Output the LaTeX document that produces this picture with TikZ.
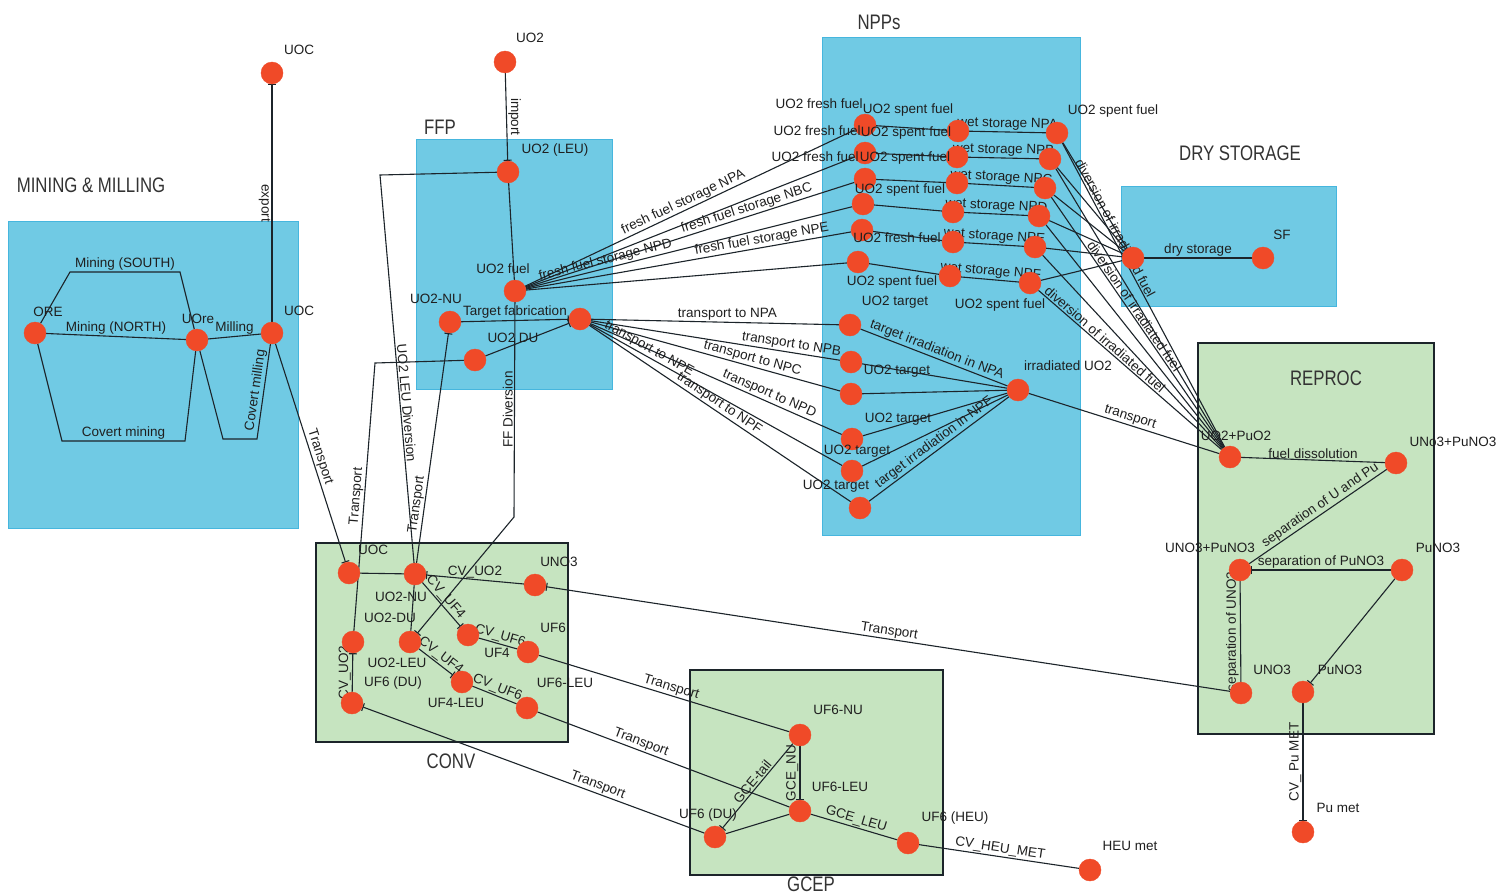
\documentclass[tikz,border=0pt]{standalone}
\usepackage{fontspec}
\setmainfont{Liberation Sans}
\usetikzlibrary{arrows.meta}
\pgfdeclarelayer{bg}\pgfdeclarelayer{edges}\pgfsetlayers{bg,edges,main}
\definecolor{boxblue}{RGB}{112,202,228}
\definecolor{boxblueline}{RGB}{70,182,222}
\definecolor{boxgreen}{RGB}{198,228,192}
\definecolor{nodered}{RGB}{240,74,40}
\definecolor{ln}{RGB}{28,36,42}
\begin{document}
\begin{tikzpicture}[x=1pt,y=-1pt,
  pt/.style={circle,fill=nodered,draw=nodered,minimum size=22pt,inner sep=0pt},
  lbl/.style={font=\fontsize{13.5}{14}\selectfont,inner sep=1.2pt,text=black!88},
  ttl/.style={font=\fontsize{21}{22}\selectfont,xscale=0.8,text=black!80,inner sep=0pt},
  ed/.style={draw=ln,line width=1.1pt},
  tk/.style={-{Bar[width=8pt,line width=1.1pt]}},
  bluebox/.style={fill=boxblue,draw=boxblueline,line width=0.8pt},
  greenbox/.style={fill=boxgreen,draw=ln,line width=1.3pt}]
\useasboundingbox (0,0) rectangle (1502,894);
\begin{pgfonlayer}{bg}
\fill[white] (0,0) rectangle (1502,894);
\draw[bluebox] (8,221) rectangle (298,528);
\draw[bluebox] (416,139) rectangle (612,389);
\draw[bluebox] (822,37) rectangle (1080,535);
\draw[bluebox] (1121,186) rectangle (1336,306);
\draw[greenbox] (1198,343) rectangle (1434,734);
\draw[greenbox] (316,543) rectangle (568,742);
\draw[greenbox] (690,670) rectangle (943,875);
\end{pgfonlayer}
% titles
\node[ttl] (tmin) at (91,185) {MINING \& MILLING};
\node[ttl] (tffp) at (440,127) {FFP};
\node[ttl] (tnpp) at (879,22) {NPPs};
\node[ttl] (tdry) at (1240,153) {DRY STORAGE};
\node[ttl] (trep) at (1326,378) {REPROC};
\node[ttl] (tconv) at (451,761) {CONV};
\node[ttl] (tgcep) at (811,884) {GCEP};
% mining nodes
\node[pt] (ore) at (35,333) {};
\node[pt] (uore) at (197,340) {};
\node[pt] (uoc) at (272,333) {};
\node[pt] (uocx) at (272,73) {};
\node[lbl] (lore) at (48,312) {ORE};
\node[lbl] (luore) at (198,319) {UOre};
\node[lbl] (luoc) at (299,311) {UOC};
\node[lbl] (luocx) at (299,50) {UOC};
% FFP nodes
\node[pt] (uo2imp) at (505,62) {};
\node[pt] (uo2leu) at (508,172) {};
\node[pt] (uo2fuel) at (515,291) {};
\node[pt] (uo2nu) at (450,322) {};
\node[pt] (tgt) at (580,319) {};
\node[pt] (uo2du) at (475,360) {};
\node[lbl] (luo2imp) at (530,38) {UO2};
\node[lbl] (luo2leu) at (555,150) {UO2 (LEU)};
\node[lbl] (luo2fuel) at (503,269) {UO2 fuel};
\node[lbl] (luo2nu) at (436,299) {UO2-NU};
\node[lbl] (luo2du) at (513,338) {UO2 DU};
% NPP nodes
\node[pt] (f1) at (865,125) {};
\node[pt] (f2) at (865,153) {};
\node[pt] (f3) at (865,179) {};
\node[pt] (f4) at (863,204) {};
\node[pt] (f5) at (862,230) {};
\node[pt] (f6) at (858,262) {};
\node[pt] (w1) at (958,131) {};
\node[pt] (w2) at (957,157) {};
\node[pt] (w3) at (957,183) {};
\node[pt] (w4) at (953,212) {};
\node[pt] (w5) at (953,242) {};
\node[pt] (w6) at (950,276) {};
\node[pt] (s1) at (1057,133) {};
\node[pt] (s2) at (1050,159) {};
\node[pt] (s3) at (1045,188) {};
\node[pt] (s4) at (1039,216) {};
\node[pt] (s5) at (1035,247) {};
\node[pt] (s6) at (1030,283) {};
\node[pt] (t1) at (850,325) {};
\node[pt] (t2) at (851,362) {};
\node[pt] (t3) at (851,394) {};
\node[pt] (t4) at (852,439) {};
\node[pt] (t5) at (852,471) {};
\node[pt] (t6) at (860,508) {};
\node[pt] (irr) at (1018,390) {};
\node[lbl,anchor=east] (lff1) at (864,104) {UO2 fresh fuel};
\node[lbl,anchor=east] (lff2) at (862,131) {UO2 fresh fuel};
\node[lbl,anchor=east] (lff3) at (860,157) {UO2 fresh fuel};
\node[lbl] (lsp1) at (908,110) {UO2 spent fuel};
\node[lbl] (lsp2) at (906,133) {UO2 spent fuel};
\node[lbl] (lsp3) at (905,158) {UO2 spent fuel};
\node[lbl] (lsp4) at (900,190) {UO2 spent fuel};
\node[lbl] (lfr5) at (897,238) {UO2 fresh fuel};
\node[lbl] (lsp6) at (892,282) {UO2 spent fuel};
\node[lbl] (ls1) at (1113,111) {UO2 spent fuel};
\node[lbl] (ls6) at (1000,305) {UO2 spent fuel};
\node[lbl] (lt1) at (895,302) {UO2 target};
\node[lbl] (lt2) at (897,371) {UO2 target};
\node[lbl] (lt3) at (898,419) {UO2 target};
\node[lbl] (lt4) at (857,451) {UO2 target};
\node[lbl] (lt5) at (836,486) {UO2 target};
\node[lbl] (lirr) at (1068,366) {irradiated UO2};
% dry storage
\node[pt] (dry) at (1133,258) {};
\node[pt] (sf) at (1263,258) {};
\node[lbl] (lsf) at (1282,235) {SF};
% reproc
\node[pt] (rep) at (1230,457) {};
\node[pt] (rnp) at (1396,463) {};
\node[pt] (rmix) at (1240,570) {};
\node[pt] (rpu) at (1402,570) {};
\node[pt] (runo3) at (1241,693) {};
\node[pt] (rpu2) at (1303,692) {};
\node[pt] (pumet) at (1303,832) {};
\node[lbl] (lrep) at (1236,436) {UO2+PuO2};
\node[lbl] (lrnp) at (1453,442) {UNo3+PuNO3};
\node[lbl] (lrmix) at (1210,548) {UNO3+PuNO3};
\node[lbl] (lrpu) at (1438,548) {PuNO3};
\node[lbl] (lruno3) at (1272,670) {UNO3};
\node[lbl] (lrpu2) at (1340,670) {PuNO3};
\node[lbl] (lpumet) at (1338,808) {Pu met};
% CONV
\node[pt] (cuoc) at (349,573) {};
\node[pt] (cnu) at (415,574) {};
\node[pt] (cuno3) at (535,585) {};
\node[pt] (cdu) at (353,642) {};
\node[pt] (cleu) at (410,642) {};
\node[pt] (cuf4) at (468,635) {};
\node[pt] (cuf6) at (528,652) {};
\node[pt] (cuf4leu) at (462,682) {};
\node[pt] (cuf6leu) at (527,708) {};
\node[pt] (cuf6du) at (352,703) {};
\node[lbl] (lcuoc) at (373,550) {UOC};
\node[lbl] (lcuno3) at (559,562) {UNO3};
\node[lbl] (lcnu) at (401,597) {UO2-NU};
\node[lbl] (lcdu) at (390,618) {UO2-DU};
\node[lbl] (lcuf6) at (553,628) {UF6};
\node[lbl] (lcuf4) at (497,653) {UF4};
\node[lbl] (lcleu) at (397,663) {UO2-LEU};
\node[lbl] (lcuf6du) at (393,683) {UF6 (DU)};
\node[lbl] (lcuf6leu) at (565,683) {UF6-LEU};
\node[lbl] (lcuf4leu) at (456,703) {UF4-LEU};
% GCEP
\node[pt] (gnu) at (800,735) {};
\node[pt] (gleu) at (800,811) {};
\node[pt] (gdu) at (715,837) {};
\node[pt] (gheu) at (908,843) {};
\node[pt] (heumet) at (1090,870) {};
\node[lbl] (lgnu) at (838,710) {UF6-NU};
\node[lbl] (lgleu) at (840,787) {UF6-LEU};
\node[lbl] (lgdu) at (708,815) {UF6 (DU)};
\node[lbl] (lgheu) at (955,818) {UF6 (HEU)};
\node[lbl] (lheumet) at (1130,846) {HEU met};
\begin{pgfonlayer}{edges}
% mining
\draw[ed] (ore) -- node[lbl,above] {Mining (NORTH)} (uore);
\draw[ed] (ore) -- (70,272) -- node[lbl,above] {Mining (SOUTH)} (180,272) -- (uore);
\draw[ed] (ore) -- (62,441) -- node[lbl,above] {Covert mining} (185,441) -- (uore);
\draw[ed] (uore) -- node[lbl,above] {Milling} (uoc);
\draw[ed] (uore) -- (223,439) -- (257,439) -- node[lbl,sloped,above] {Covert milling} (uoc);
\draw[ed,tk] (uoc) -- node[lbl,rotate=-90,anchor=north,pos=0.5] {export} (uocx);
\draw[ed,tk] (uoc) -- node[lbl,sloped,above,pos=0.53] {Transport} (cuoc);
% FFP
\draw[ed,tk] (uo2imp) -- node[lbl,rotate=-90,anchor=south,pos=0.5] {import} (uo2leu);
\draw[ed] (uo2leu) -- (uo2fuel);
\draw[ed,tk] (uo2nu) -- node[lbl,above,pos=0.5] {Target fabrication} (tgt);
\draw[ed,tk] (uo2du) -- (tgt);
\draw[ed] (uo2leu) -- (380,175) -- node[lbl,sloped,above,pos=0.59] {UO2 LEU Diversion} (cnu);
\draw[ed,tk] (cnu) -- node[lbl,sloped,above,pos=0.25] {Transport} (uo2nu);
\draw[ed] (cdu) -- node[lbl,sloped,above,pos=0.5] {Transport} (375,363) -- (uo2du);
\draw[ed,tk] (uo2fuel) -- node[lbl,rotate=90,anchor=south,pos=0.5] {FF Diversion} (514,517) -- (cleu);
% fresh fuel
\draw[ed] (uo2fuel) -- node[lbl,sloped,above,pos=0.49] {fresh fuel storage NPA} (f1);
\draw[ed] (uo2fuel) -- (f2);
\draw[ed] (uo2fuel) -- node[lbl,sloped,above,pos=0.68] {fresh fuel storage NBC} (f3);
\draw[ed] (uo2fuel) -- node[lbl,sloped,above,pos=0.25] {fresh fuel storage NPD} (f4);
\draw[ed] (uo2fuel) -- node[lbl,sloped,above,pos=0.73] {fresh fuel storage NPE} (f5);
\draw[ed] (uo2fuel) -- (f6);
% wet storage
\draw[ed] (f1) -- (w1); \draw[ed] (f2) -- (w2); \draw[ed] (f3) -- (w3);
\draw[ed] (f4) -- (w4); \draw[ed] (f5) -- (w5); \draw[ed] (f6) -- (w6);
\draw[ed] (w1) -- node[lbl,sloped,above] {wet storage NPA} (s1);
\draw[ed] (w2) -- node[lbl,sloped,above] {wet storage NPB} (s2);
\draw[ed] (w3) -- node[lbl,sloped,above] {wet storage NPC} (s3);
\draw[ed] (w4) -- node[lbl,sloped,above] {wet storage NPD} (s4);
\draw[ed] (w5) -- node[lbl,sloped,above] {wet storage NPE} (s5);
\draw[ed] (w6) -- node[lbl,sloped,above] {wet storage NPF} (s6);
% diversion
\foreach \s in {s1,s2,s3,s4,s5,s6} {\draw[ed] (\s) -- (dry);}
\draw[ed] (s1) -- node[lbl,sloped,above,pos=0.29] {diversion of irradiated fuel} (rep);
\draw[ed] (s2) -- (rep);
\draw[ed] (s3) -- node[lbl,sloped,above,pos=0.45] {diversion of irradiated fuel} (rep);
\draw[ed] (s4) -- (rep);
\draw[ed] (s5) -- (rep);
\draw[ed] (s6) -- node[lbl,sloped,above,pos=0.34] {diversion of irradiated fuel} (rep);
\draw[ed] (dry) -- node[lbl,above] {dry storage} (sf);
% targets
\draw[ed] (tgt) -- node[lbl,above,pos=0.55] {transport to NPA} (t1);
\draw[ed] (tgt) -- node[lbl,sloped,above,pos=0.8] {transport to NPB} (t2);
\draw[ed] (tgt) -- node[lbl,sloped,above,pos=0.64] {transport to NPC} (t3);
\draw[ed] (tgt) -- node[lbl,sloped,above,pos=0.7] {transport to NPD} (t4);
\draw[ed] (tgt) -- node[lbl,sloped,above,pos=0.22] {transport to NPE} (t5);
\draw[ed] (tgt) -- node[lbl,sloped,above,pos=0.48] {transport to NPF} (t6);
\draw[ed] (t1) -- node[lbl,sloped,above,pos=0.5] {target irradiation in NPA} (irr);
\draw[ed] (t2) -- (irr); \draw[ed] (t3) -- (irr);
\draw[ed] (t4) -- (irr); \draw[ed] (t5) -- (irr);
\draw[ed] (t6) -- node[lbl,sloped,above,pos=0.5] {target irradiation in NPF} (irr);
\draw[ed] (irr) -- node[lbl,sloped,above,pos=0.52] {transport} (rep);
% reproc
\draw[ed] (rep) -- node[lbl,above] {fuel dissolution} (rnp);
\draw[ed] (rnp) -- node[lbl,sloped,above,pos=0.45] {separation of U and Pu} (rmix);
\draw[ed,tk] (rpu) -- node[lbl,above] {separation of PuNO3} (rmix);
\draw[ed] (rmix) -- node[lbl,rotate=90,anchor=south] {separation of UNO3} (runo3);
\draw[ed,tk] (rpu) -- (rpu2);
\draw[ed,tk] (rpu2) -- node[lbl,rotate=90,anchor=south] {CV\_ Pu MET} (pumet);
\draw[ed,tk] (runo3) -- node[lbl,sloped,above,pos=0.5] {Transport} (cuno3);
% CONV
\draw[ed] (cuoc) -- (cnu);
\draw[ed,tk] (cuno3) -- node[lbl,above] {CV\_UO2} (cnu);
\draw[ed,tk] (cnu) -- node[lbl,sloped,above,pos=0.45] {CV\_UF4} (cuf4);
\draw[ed] (cuf4) -- node[lbl,sloped,above] {CV\_UF6} (cuf6);
\draw[ed] (cnu) -- (cleu);
\draw[ed,tk] (cleu) -- node[lbl,sloped,above] {CV\_UF4} (cuf4leu);
\draw[ed] (cuf4leu) -- node[lbl,sloped,above] {CV\_UF6} (cuf6leu);
\draw[ed,tk] (cuf6du) -- node[lbl,rotate=90,anchor=south] {CV\_UO2} (cdu);
% GCEP
\draw[ed] (cuf6) -- node[lbl,sloped,above,pos=0.52] {Transport} (gnu);
\draw[ed] (cuf6leu) -- node[lbl,sloped,above,pos=0.4] {Transport} (gleu);
\draw[ed,tk] (gdu) -- node[lbl,sloped,above,pos=0.32] {Transport} (cuf6du);
\draw[ed,tk] (gnu) -- node[lbl,rotate=90,anchor=south] {GCE\_NU} (gleu);
\draw[ed,tk] (gnu) -- node[lbl,sloped,above] {GCE-tail} (gdu);
\draw[ed] (gleu) -- (gdu);
\draw[ed] (gleu) -- node[lbl,sloped,above] {GCE\_LEU} (gheu);
\draw[ed] (gheu) -- node[lbl,sloped,above] {CV\_HEU\_MET} (heumet);
\end{pgfonlayer}
\end{tikzpicture}
\end{document}
